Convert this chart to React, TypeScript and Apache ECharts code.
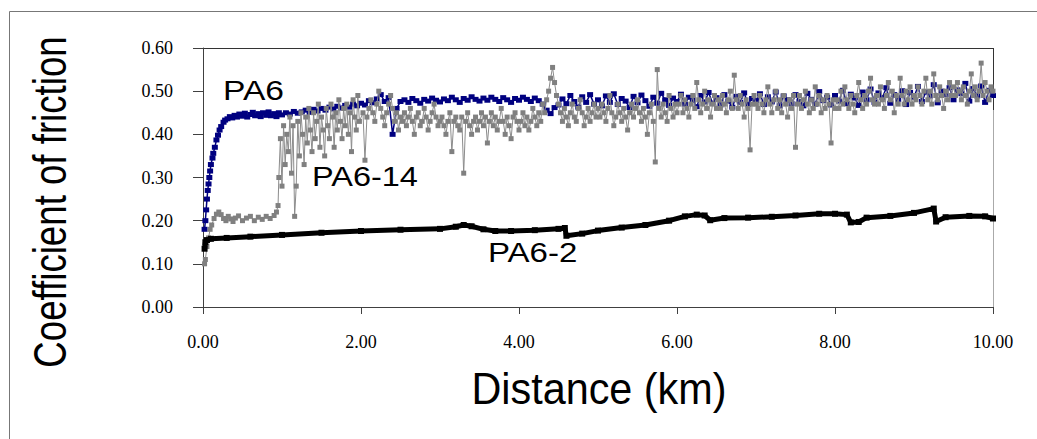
import React, { useEffect, useRef } from "react";
import * as echarts from "echarts";

// ---------- DATA ----------
const xTicks = [0, 2, 4, 6, 8, 10];
const yTicks = [0, 0.1, 0.2, 0.3, 0.4, 0.5, 0.6];

// PA6 (navy): initial running-in rise, explicit [km, mu]
const pa6Rise: [number, number][] = [
  [0.02, 0.18], [0.03, 0.2], [0.04, 0.225], [0.05, 0.25], [0.06, 0.27], [0.07, 0.285],
  [0.08, 0.3], [0.09, 0.315], [0.1, 0.33], [0.12, 0.345], [0.13, 0.356], [0.15, 0.37],
  [0.17, 0.387], [0.19, 0.398], [0.21, 0.41], [0.23, 0.418], [0.26, 0.428], [0.28, 0.433],
  [0.31, 0.436], [0.34, 0.441], [0.37, 0.438], [0.4, 0.444], [0.43, 0.44], [0.46, 0.447],
  [0.5, 0.442], [0.53, 0.449], [0.56, 0.44], [0.6, 0.446], [0.63, 0.451], [0.66, 0.443],
  [0.7, 0.448], [0.73, 0.441], [0.76, 0.45], [0.8, 0.444], [0.83, 0.452], [0.86, 0.443],
  [0.9, 0.448], [0.93, 0.441], [0.96, 0.45],
];
// PA6 (navy): band from 1.00 km onwards, one value every 0.05 km
const pa6BandStart = 1.0;
const pa6BandStep = 0.05;
const pa6Band = [
  0.445, 0.45, 0.447, 0.453, 0.449, 0.452, 0.456, 0.451, 0.458, 0.454,
  0.46, 0.456, 0.463, 0.459, 0.465, 0.461, 0.467, 0.463, 0.47, 0.466,
  0.472, 0.468, 0.478, 0.473, 0.482, 0.492, 0.476, 0.485, 0.4, 0.46,
  0.476, 0.48, 0.474, 0.483, 0.478, 0.472, 0.481, 0.477, 0.484, 0.479,
  0.475, 0.482, 0.478, 0.486, 0.48, 0.474, 0.483, 0.479, 0.487, 0.481,
  0.477, 0.484, 0.479, 0.486, 0.481, 0.476, 0.485, 0.48, 0.474, 0.483,
  0.479, 0.486, 0.481, 0.476, 0.484, 0.478, 0.47, 0.456, 0.448, 0.462,
  0.468, 0.482, 0.471, 0.49, 0.476, 0.463, 0.487, 0.474, 0.492, 0.47,
  0.48, 0.466, 0.489, 0.474, 0.494, 0.469, 0.483, 0.477, 0.462, 0.488,
  0.473, 0.491, 0.478, 0.465, 0.486, 0.472, 0.495, 0.48, 0.467, 0.484,
  0.476, 0.493, 0.47, 0.486, 0.479, 0.464, 0.49, 0.475, 0.497, 0.472,
  0.485, 0.468, 0.492, 0.477, 0.463, 0.488, 0.474, 0.496, 0.47, 0.483,
  0.478, 0.494, 0.469, 0.487, 0.475, 0.498, 0.466, 0.489, 0.48, 0.471,
  0.492, 0.476, 0.466, 0.495, 0.481, 0.47, 0.499, 0.478, 0.486, 0.468,
  0.49, 0.477, 0.502, 0.471, 0.493, 0.484, 0.467, 0.498, 0.48, 0.505,
  0.474, 0.496, 0.485, 0.508, 0.472, 0.492, 0.481, 0.501, 0.469, 0.497,
  0.486, 0.511, 0.476, 0.498, 0.489, 0.515, 0.473, 0.5, 0.492, 0.508,
  0.48, 0.503, 0.494, 0.518, 0.477, 0.506, 0.489, 0.512, 0.474, 0.502,
  0.49,
];

// PA6-14 (grey): low plateau before the jump, explicit [km, mu]
const pa614Start: [number, number][] = [
  [0.02, 0.1], [0.03, 0.11], [0.05, 0.14], [0.07, 0.16], [0.09, 0.18], [0.11, 0.19],
  [0.14, 0.205], [0.17, 0.215], [0.2, 0.22], [0.23, 0.214], [0.26, 0.205], [0.29, 0.2],
  [0.32, 0.21], [0.35, 0.204], [0.38, 0.198], [0.41, 0.206], [0.45, 0.211], [0.5, 0.2],
  [0.55, 0.206], [0.6, 0.21], [0.65, 0.2], [0.7, 0.208], [0.75, 0.203], [0.8, 0.21],
  [0.85, 0.205], [0.9, 0.212], [0.93, 0.22], [0.95, 0.235],
];
// PA6-14: transition zone, one value every 0.02 km from 0.96 km
const pa614JumpStart = 0.96;
const pa614JumpStep = 0.02;
const pa614Jump = [
  0.3, 0.39, 0.28, 0.42, 0.33, 0.4, 0.36, 0.44, 0.31, 0.42, 0.21, 0.28, 0.43, 0.35,
  0.45, 0.4, 0.33, 0.44, 0.38, 0.46, 0.41, 0.36, 0.45, 0.39, 0.43, 0.47, 0.37, 0.44,
  0.41, 0.35, 0.46, 0.42, 0.39, 0.47, 0.44, 0.37, 0.45, 0.41, 0.48, 0.43, 0.39, 0.46,
  0.42, 0.47, 0.4, 0.45, 0.36, 0.48, 0.44, 0.41, 0.49, 0.43,
];
// PA6-14: noisy band, one value every 0.025 km from 2.025 km
const pa614BandStart = 2.025;
const pa614BandStep = 0.025;
const pa614Band = [
  0.45, 0.34, 0.44, 0.46, 0.48, 0.45, 0.43, 0.47, 0.5, 0.46, 0.44, 0.42, 0.45, 0.47, 0.49, 0.46, 0.43, 0.45, 0.41, 0.44,
  0.43, 0.45, 0.42, 0.44, 0.46, 0.43, 0.4, 0.44, 0.45, 0.42, 0.43, 0.46, 0.44, 0.41, 0.43, 0.45, 0.47, 0.44, 0.42, 0.43,
  0.44, 0.42, 0.4, 0.43, 0.45, 0.36, 0.43, 0.44, 0.42, 0.41, 0.44, 0.31, 0.43, 0.45, 0.42, 0.4, 0.43, 0.44, 0.41, 0.43,
  0.45, 0.42, 0.44, 0.38, 0.43, 0.45, 0.42, 0.44, 0.41, 0.43, 0.46, 0.43, 0.4, 0.44, 0.42, 0.39, 0.44, 0.45, 0.43, 0.41,
  0.43, 0.45, 0.42, 0.44, 0.41, 0.43, 0.46, 0.44, 0.42, 0.45, 0.43, 0.47, 0.45, 0.48, 0.5, 0.53, 0.555, 0.52, 0.49, 0.47,
  0.45, 0.43, 0.46, 0.44, 0.42, 0.45, 0.47, 0.44, 0.43, 0.46, 0.48, 0.45, 0.42, 0.44, 0.46, 0.43, 0.45, 0.47, 0.44, 0.46,
  0.44, 0.47, 0.45, 0.43, 0.46, 0.49, 0.45, 0.42, 0.44, 0.47, 0.45, 0.43, 0.46, 0.44, 0.41, 0.45, 0.47, 0.44, 0.46, 0.48,
  0.45, 0.43, 0.46, 0.44, 0.4, 0.45, 0.47, 0.43, 0.336, 0.55, 0.46, 0.44, 0.47, 0.45, 0.43, 0.49, 0.46, 0.44, 0.47, 0.45,
  0.47, 0.49, 0.45, 0.48, 0.46, 0.44, 0.47, 0.49, 0.46, 0.52, 0.48, 0.45, 0.47, 0.5, 0.46, 0.48, 0.44, 0.47, 0.49, 0.46,
  0.48, 0.46, 0.49, 0.47, 0.45, 0.48, 0.5, 0.46, 0.537, 0.48, 0.46, 0.49, 0.47, 0.44, 0.48, 0.46, 0.364, 0.47, 0.49, 0.47,
  0.46, 0.49, 0.47, 0.45, 0.48, 0.51, 0.47, 0.45, 0.48, 0.5, 0.46, 0.48, 0.45, 0.49, 0.47, 0.44, 0.48, 0.46, 0.49, 0.37,
  0.47, 0.49, 0.46, 0.48, 0.5, 0.47, 0.45, 0.48, 0.46, 0.51, 0.47, 0.49, 0.45, 0.48, 0.46, 0.49, 0.47, 0.38, 0.48, 0.46,
  0.48, 0.46, 0.5, 0.47, 0.51, 0.48, 0.46, 0.49, 0.47, 0.45, 0.49, 0.52, 0.48, 0.46, 0.49, 0.47, 0.5, 0.53, 0.48, 0.47,
  0.49, 0.47, 0.51, 0.48, 0.46, 0.49, 0.52, 0.48, 0.5, 0.45, 0.49, 0.47, 0.53, 0.49, 0.47, 0.5, 0.48, 0.51, 0.47, 0.49,
  0.48, 0.51, 0.49, 0.47, 0.5, 0.53, 0.48, 0.5, 0.47, 0.54, 0.49, 0.48, 0.51, 0.49, 0.46, 0.5, 0.48, 0.52, 0.49, 0.51,
  0.49, 0.52, 0.5, 0.48, 0.51, 0.49, 0.47, 0.5, 0.54, 0.49, 0.51, 0.48, 0.5, 0.565, 0.49, 0.52, 0.5, 0.48, 0.51, 0.5,
];

// PA6-2 (black): explicit [km, mu]
const pa62: [number, number][] = [
  [0.02, 0.135], [0.03, 0.15], [0.05, 0.155], [0.1, 0.158], [0.3, 0.16], [0.6, 0.163],
  [1.0, 0.167], [1.5, 0.172], [2.0, 0.176], [2.5, 0.179], [3.0, 0.181], [3.2, 0.186],
  [3.3, 0.19], [3.4, 0.187], [3.55, 0.18], [3.7, 0.176], [3.9, 0.176], [4.2, 0.178],
  [4.5, 0.181], [4.58, 0.183], [4.6, 0.165], [4.8, 0.17], [5.0, 0.177], [5.3, 0.184],
  [5.6, 0.19], [5.9, 0.2], [6.1, 0.21], [6.25, 0.214], [6.35, 0.212], [6.42, 0.201],
  [6.6, 0.206], [6.9, 0.207], [7.2, 0.209], [7.5, 0.212], [7.8, 0.216], [8.0, 0.216],
  [8.15, 0.214], [8.2, 0.196], [8.3, 0.197], [8.4, 0.207], [8.7, 0.211], [9.0, 0.218],
  [9.25, 0.228], [9.28, 0.198], [9.4, 0.208], [9.7, 0.211], [9.9, 0.21], [10.0, 0.205],
];

const seriesNames = ["PA6", "PA6-14", "PA6-2"];
const xTitle = "Distance (km)";
const yTitle = "Coefficient of friction";

const withStep = (start: number, step: number, vals: number[]): [number, number][] =>
  vals.map((v, i) => [+(start + i * step).toFixed(3), v]);

export default function App() {
  const ref = useRef<HTMLDivElement>(null);
  useEffect(() => {
    document.body.style.margin = "0";
    const chart = echarts.init(ref.current!, null, { renderer: "svg" });
    const pa6Data = pa6Rise.concat(withStep(pa6BandStart, pa6BandStep, pa6Band));
    const pa614Data = pa614Start
      .concat(withStep(pa614JumpStart, pa614JumpStep, pa614Jump))
      .concat(withStep(pa614BandStart, pa614BandStep, pa614Band));
    const axisColor = "#404040";
    const sans = "Liberation Sans";
    const serif = "Liberation Serif";
    chart.setOption({
      animation: false,
      backgroundColor: "#fff",
      grid: { left: 203, right: 44, top: 48, bottom: 132, containLabel: false },
      xAxis: {
        type: "value",
        min: xTicks[0],
        max: xTicks[xTicks.length - 1],
        interval: 2,
        axisLine: { show: true, onZero: false, lineStyle: { color: axisColor, width: 1 } },
        axisTick: { show: true, inside: false, length: 7, lineStyle: { color: axisColor } },
        axisLabel: {
          fontFamily: serif,
          fontSize: 18,
          color: "#000",
          margin: 26,
          formatter: (v: number) => v.toFixed(2),
        },
        splitLine: { show: false },
      },
      yAxis: {
        type: "value",
        min: yTicks[0],
        max: yTicks[yTicks.length - 1],
        interval: 0.1,
        axisLine: { show: true, onZero: false, lineStyle: { color: axisColor, width: 1 } },
        axisTick: { show: true, inside: false, length: 10, lineStyle: { color: axisColor } },
        axisLabel: {
          fontFamily: serif,
          fontSize: 18,
          color: "#000",
          margin: 30,
          formatter: (v: number) => v.toFixed(2),
        },
        splitLine: { show: false },
      },
      series: [
        {
          name: seriesNames[0],
          type: "line",
          data: pa6Data,
          symbol: "rect",
          symbolSize: [6, 5],
          showSymbol: true,
          showAllSymbol: true,
          lineStyle: { color: "#000080", width: 1.5 },
          itemStyle: { color: "#000080" },
          silent: true,
          z: 2,
        },
        {
          name: seriesNames[1],
          type: "line",
          data: pa614Data,
          symbol: "rect",
          symbolSize: 5,
          showSymbol: true,
          showAllSymbol: true,
          lineStyle: { color: "#8c8c8c", width: 1 },
          itemStyle: { color: "#808080" },
          silent: true,
          z: 3,
        },
        {
          name: seriesNames[2],
          type: "line",
          data: pa62,
          symbol: "rect",
          symbolSize: 6,
          showSymbol: true,
          lineStyle: { color: "#000", width: 5 },
          itemStyle: { color: "#000" },
          silent: true,
          z: 4,
        },
      ],
      graphic: [
        {
          type: "rect",
          shape: { x: 9.5, y: 11.5, width: 1100, height: 600 },
          style: { fill: "none", stroke: "#777", lineWidth: 1 },
          silent: true,
          z: 0,
        },
        {
          type: "line",
          shape: { x1: 203, y1: 48.5, x2: 993.5, y2: 48.5 },
          style: { stroke: "#333", lineWidth: 1 },
          silent: true,
        },
        {
          type: "line",
          shape: { x1: 993.5, y1: 48, x2: 993.5, y2: 110 },
          style: { stroke: "#333", lineWidth: 1 },
          silent: true,
        },
        {
          type: "line",
          shape: { x1: 993.5, y1: 110, x2: 993.5, y2: 307 },
          style: { stroke: "#aaa", lineWidth: 1 },
          silent: true,
        },
        {
          type: "text",
          x: 50,
          y: 202,
          rotation: Math.PI / 2,
          scaleX: 0.78,
          style: { text: yTitle, fontFamily: sans, fontSize: 47, fill: "#000", align: "center", verticalAlign: "middle" },
          silent: true,
        },
        {
          type: "text",
          x: 599,
          y: 389,
          scaleX: 0.94,
          style: { text: xTitle, fontFamily: sans, fontSize: 44, fill: "#000", align: "center", verticalAlign: "middle" },
          silent: true,
        },
        {
          type: "text",
          x: 223,
          y: 90,
          scaleX: 1.2,
          style: { text: seriesNames[0], fontFamily: sans, fontSize: 28, fill: "#000", align: "left", verticalAlign: "middle" },
          silent: true,
          z: 10,
        },
        {
          type: "text",
          x: 312,
          y: 176,
          scaleX: 1.16,
          style: { text: seriesNames[1], fontFamily: sans, fontSize: 28, fill: "#000", align: "left", verticalAlign: "middle" },
          silent: true,
          z: 10,
        },
        {
          type: "text",
          x: 488,
          y: 252,
          scaleX: 1.18,
          style: { text: seriesNames[2], fontFamily: sans, fontSize: 28, fill: "#000", align: "left", verticalAlign: "middle" },
          silent: true,
          z: 10,
        },
      ],
    });
    return () => chart.dispose();
  }, []);
  return (
    <div
      ref={ref}
      style={{ position: "absolute", left: 0, top: 0, width: 1037, height: 439 }}
    />
  );
}
